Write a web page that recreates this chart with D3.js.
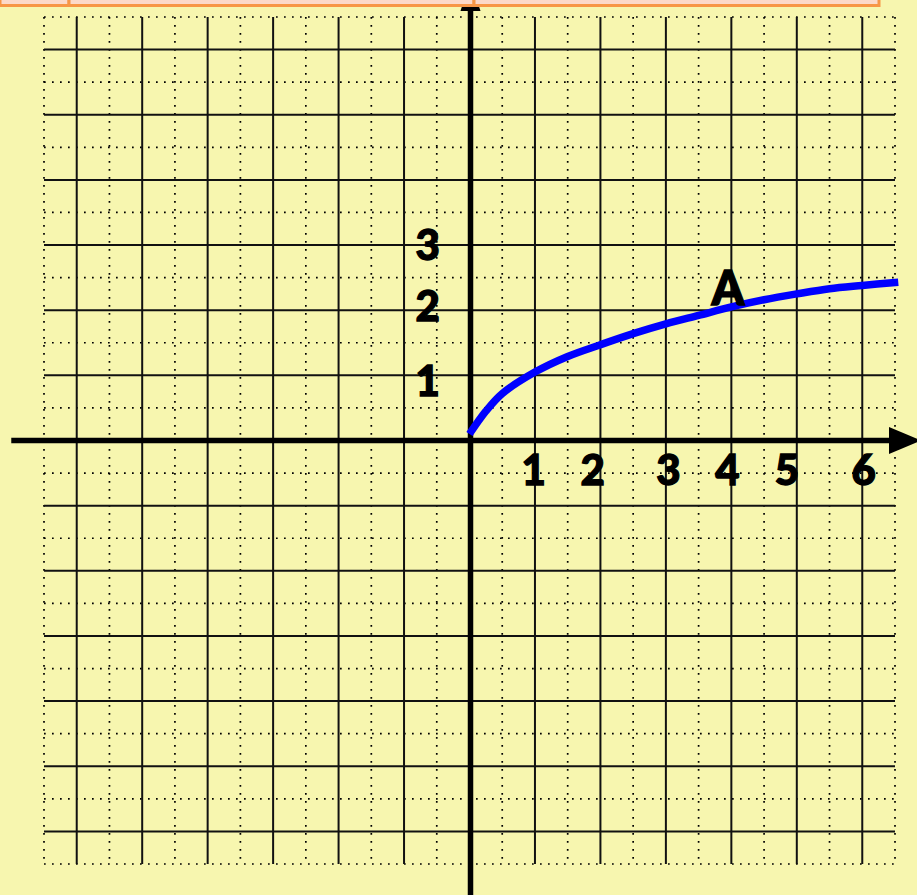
<!DOCTYPE html>
<html>
<head>
<meta charset="utf-8">
<script src="https://cdn.jsdelivr.net/npm/d3@7"></script>
<style>
    html, body { margin: 0; padding: 0; background: #f7f6af; }
    svg { display: block; }
    text { font-family: Lato, "Open Sans", sans-serif; font-weight: 900; fill: #000; stroke: #000; stroke-width: 1.3px; }
</style>
</head>
<body>
<svg width="917" height="895"></svg>
<script>
// curve (x, y in grid units)
const curveX = [0, 0.25, 0.5, 1, 1.5, 2, 2.5, 3, 3.5, 4, 4.5, 5, 5.5, 6, 6.55];
const curveY = [0.1, 0.45, 0.72, 1.05, 1.29, 1.47, 1.64, 1.79, 1.92, 2.05, 2.16, 2.25, 2.33, 2.38, 2.43];

const xTickLabels = ["1", "2", "3", "4", "5", "6"];
const xTickPos = [0.98, 1.88, 3.04, 3.94, 4.85, 6.02];
const yTickLabels = ["1", "2", "3"];
const yTickPos = [0.92, 2.07, 3.0];

const pointLabel = "A";
const pointPos = [3.95, 2.34];

const gridMajor = [-6, -5, -4, -3, -2, -1, 1, 2, 3, 4, 5, 6];
const gridMinor = [-6.5, -5.5, -4.5, -3.5, -2.5, -1.5, -0.5, 0.5, 1.5, 2.5, 3.5, 4.5, 5.5, 6.5];

const headerBoxes = [[0, 69], [69, 474], [474, 879]];

const svg = d3.select("svg");

const x = d3.scaleLinear().domain([-6.5, 6.5]).range([44, 895]);
const y = d3.scaleLinear().domain([-6.5, 6.5]).range([864, 17]);

const grid = svg.append("g");

// dotted half-unit lines
grid.selectAll(".vdot")
    .data(gridMinor)
    .enter().append("line")
    .attr("x1", d => x(d)).attr("x2", d => x(d))
    .attr("y1", y(6.5)).attr("y2", y(-6.5))
    .attr("stroke", "#000")
    .attr("stroke-width", 1.7)
    .attr("stroke-dasharray", "1.7,6.3");

grid.selectAll(".hdot")
    .data(gridMinor)
    .enter().append("line")
    .attr("x1", x(-6.5)).attr("x2", x(6.5))
    .attr("y1", d => y(d)).attr("y2", d => y(d))
    .attr("stroke", "#000")
    .attr("stroke-width", 1.7)
    .attr("stroke-dasharray", "1.7,6.3");

// solid unit lines
grid.selectAll(".vline")
    .data(gridMajor)
    .enter().append("line")
    .attr("x1", d => x(d)).attr("x2", d => x(d))
    .attr("y1", y(6.5)).attr("y2", y(-6.5))
    .attr("stroke", "#111")
    .attr("stroke-width", 2);

grid.selectAll(".hline")
    .data(gridMajor)
    .enter().append("line")
    .attr("x1", x(-6.5)).attr("x2", x(6.5))
    .attr("y1", d => y(d)).attr("y2", d => y(d))
    .attr("stroke", "#111")
    .attr("stroke-width", 2);

// axes
const axes = svg.append("g");
axes.append("line")
    .attr("x1", x(-7)).attr("x2", 892)
    .attr("y1", y(0)).attr("y2", y(0))
    .attr("stroke", "#000")
    .attr("stroke-width", 5.5);
axes.append("path")
    .attr("d", `M889,${y(0) - 13.5} L921,${y(0)} L889,${y(0) + 13.5} Z`)
    .attr("fill", "#000");

axes.append("line")
    .attr("x1", x(0) + 1).attr("x2", x(0) + 1)
    .attr("y1", y(-7)).attr("y2", 10)
    .attr("stroke", "#000")
    .attr("stroke-width", 5.5);
axes.append("path")
    .attr("d", `M${x(0) + 1 - 10},11 L${x(0) + 1},-20 L${x(0) + 1 + 10},11 Z`)
    .attr("fill", "#000");

// header boxes at the top edge
svg.append("g").selectAll("rect")
    .data(headerBoxes)
    .enter().append("rect")
    .attr("x", d => d[0]).attr("y", -10)
    .attr("width", d => d[1] - d[0]).attr("height", 15.5)
    .attr("fill", "#fcd9c9")
    .attr("stroke", "#f79646")
    .attr("stroke-width", 3);

// curve
const pts = curveX.map((v, i) => [v, curveY[i]]);
const line = d3.line()
    .x(d => x(d[0]))
    .y(d => y(d[1]))
    .curve(d3.curveCatmullRom.alpha(0.5));

svg.append("path")
    .datum(pts)
    .attr("d", line)
    .attr("fill", "none")
    .attr("stroke", "#0000ff")
    .attr("stroke-width", 7.5);

// labels
const labels = svg.append("g");
labels.selectAll(".xl")
    .data(xTickLabels)
    .enter().append("text")
    .attr("x", (d, i) => x(xTickPos[i]))
    .attr("y", y(-0.45) + 15)
    .attr("text-anchor", "middle")
    .attr("font-size", 42)
    .text(d => d);

labels.selectAll(".yl")
    .data(yTickLabels)
    .enter().append("text")
    .attr("x", x(-0.64))
    .attr("y", (d, i) => y(yTickPos[i]) + 15)
    .attr("text-anchor", "middle")
    .attr("font-size", 42)
    .text(d => d);

labels.append("text")
    .attr("x", x(pointPos[0]))
    .attr("y", y(pointPos[1]) + 17)
    .attr("text-anchor", "middle")
    .attr("font-size", 47)
    .text(pointLabel);
</script>
</body>
</html>
